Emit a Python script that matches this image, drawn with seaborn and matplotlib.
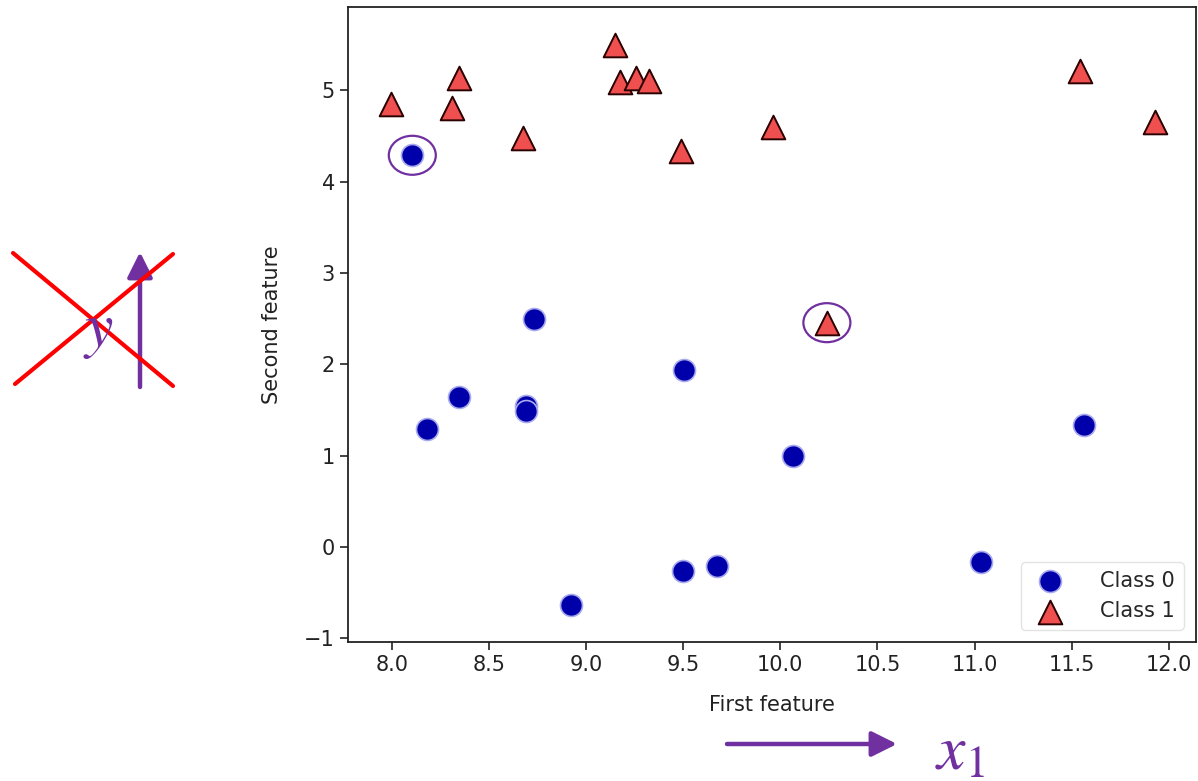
import numpy as np
import pandas as pd
import matplotlib
matplotlib.use('Agg')
import matplotlib.pyplot as plt
import matplotlib.transforms as mtransforms
from matplotlib.patches import Ellipse, FancyArrowPatch
import seaborn as sns

# forge-like two-class data
first_feature = [9.963, 11.033, 11.542, 8.693, 8.106, 8.310, 11.930, 9.673, 8.348, 8.675,
                 9.177, 10.240, 8.689, 8.922, 9.491, 9.257, 7.998, 8.184, 8.734, 9.323,
                 10.064, 9.500, 8.345, 9.502, 9.151, 11.564]
second_feature = [4.597, -0.168, 5.211, 1.543, 4.287, 4.806, 4.649, -0.203, 5.134, 4.476,
                  5.093, 2.455, 1.487, -0.640, 4.332, 5.133, 4.853, 1.296, 2.492, 5.098,
                  0.991, -0.264, 1.638, 1.938, 5.498, 1.339]
labels = [1, 0, 1, 0, 0, 1, 1, 0, 1, 1, 1, 1, 0, 0, 1, 1, 1, 0, 0, 1, 0, 0, 0, 0, 1, 0]
class_names = ['Class 0', 'Class 1']
circled = [(8.106, 4.287), (10.240, 2.455)]

df = pd.DataFrame({'x': first_feature, 'y': second_feature, 'label': labels})

sns.set_style('ticks')
plt.rcParams['font.family'] = ['DejaVu Sans']

W, H = 1198, 781
fig = plt.figure(figsize=(W / 100, H / 100), dpi=100)
ax = fig.add_axes([348 / W, 1 - 642 / H, (1196 - 348) / W, (642 - 7) / H])

purple = '#7030a0'

# class 0: dark blue circles, class 1: red triangles
c0 = df[df.label == 0]
c1 = df[df.label == 1]
sns.scatterplot(data=c0, x='x', y='y', marker='o', s=250, color='#0000aa',
                edgecolor='#aaaaee', linewidth=1.2, label=class_names[0], ax=ax, zorder=3)
sns.scatterplot(data=c1, x='x', y='y', marker='^', s=290, color='#ef4f4f',
                edgecolor='#2a0000', linewidth=1.4, label=class_names[1], ax=ax, zorder=3)

ax.set_xlim(7.775, 12.14)
ax.set_ylim(-1.04, 5.91)
xt = np.arange(8.0, 12.01, 0.5)
ax.set_xticks(xt)
ax.set_xticklabels([f'{v:.1f}' for v in xt])
ax.set_yticks(range(-1, 6))
ax.set_yticklabels(['\u22121', '0', '1', '2', '3', '4', '5'])
ax.tick_params(labelsize=15, length=6, width=1.2, color='#222222', labelcolor='#222222')
for sp in ax.spines.values():
    sp.set_linewidth(1.3)
    sp.set_color('#222222')
ax.set_xlabel('First feature', fontsize=15, color='#222222', labelpad=14)
ax.set_ylabel('Second feature', fontsize=15, color='#222222', labelpad=16)

leg = ax.legend(loc='lower right', fontsize=15, frameon=True, borderpad=0.4,
                handletextpad=1.4, labelspacing=0.5, borderaxespad=0.6)
leg.get_frame().set_edgecolor('#dddddd')

# purple circles around the two highlighted points (sizes in pixels)
for cx, cy in circled:
    tr = mtransforms.ScaledTranslation(cx, cy, ax.transData)
    ax.add_patch(Ellipse((0, 0), 47, 39, transform=mtransforms.IdentityTransform() + tr,
                         fill=False, edgecolor=purple, linewidth=1.6, zorder=4, clip_on=False))


def fx(px):
    return px / W


def fy(py):
    return 1 - py / H


# left annotation: crossed-out y with an up arrow
fig.text(fx(98), fy(330), '$y$', fontsize=46, color=purple, ha='center', va='center',
         math_fontfamily='stix')
fig.add_artist(plt.Line2D([fx(13), fx(173)], [fy(253), fy(386)], color='#ff0000', lw=3))
fig.add_artist(plt.Line2D([fx(15), fx(173)], [fy(384), fy(254)], color='#ff0000', lw=3))
arrow_style = '-|>,head_length=0.9,head_width=0.45'
fig.add_artist(FancyArrowPatch((fx(140), fy(387)), (fx(140), fy(252)),
                               transform=fig.transFigure, arrowstyle=arrow_style,
                               mutation_scale=17, color=purple, lw=3.2, shrinkA=0, shrinkB=0))

# bottom annotation: x_1 arrow
fig.add_artist(FancyArrowPatch((fx(727), fy(744)), (fx(897), fy(744)),
                               transform=fig.transFigure, arrowstyle=arrow_style,
                               mutation_scale=17, color=purple, lw=3.2, shrinkA=0, shrinkB=0))
fig.text(fx(960), fy(752), '$x_1$', fontsize=46, color=purple, ha='center', va='center',
         math_fontfamily='stix')

fig.savefig('out.png', dpi=100)
